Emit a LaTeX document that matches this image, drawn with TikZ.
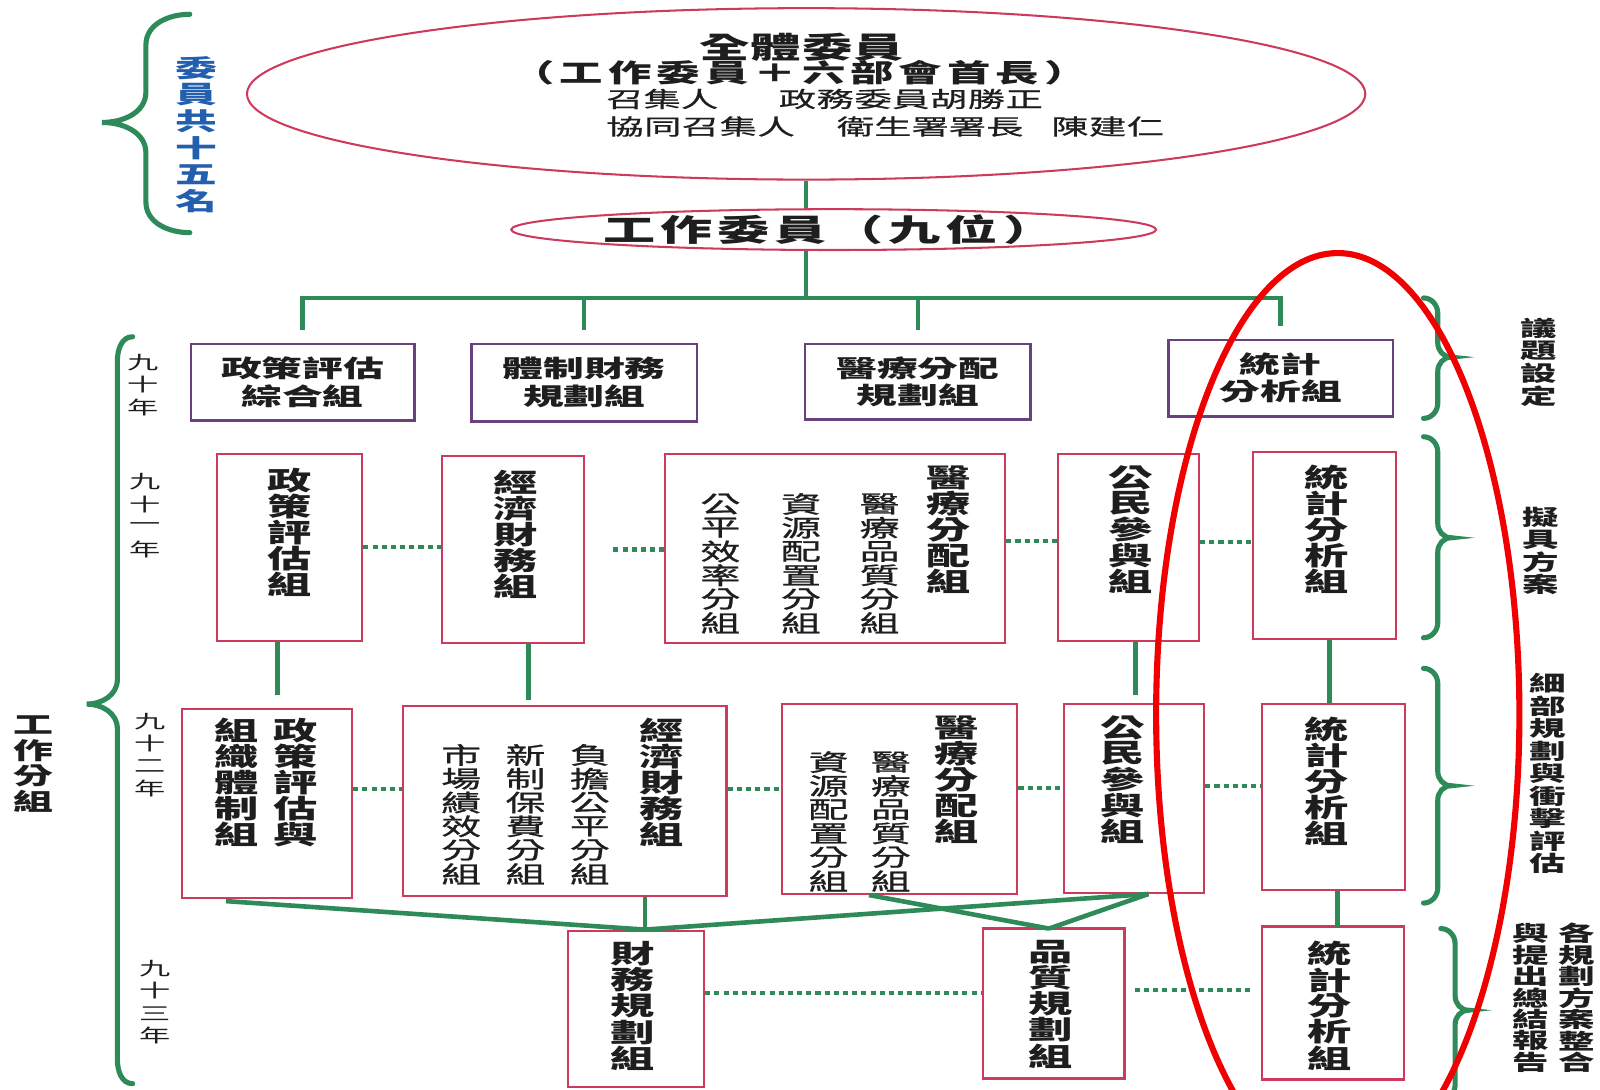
\documentclass[tikz,border=0pt]{standalone}
\usepackage{fontspec}
\setmainfont{Noto Sans CJK TC}[FakeStretch=1.7]
\usetikzlibrary{shapes.geometric,calc}
\definecolor{grn}{RGB}{46,138,88}
\definecolor{crim}{RGB}{205,58,92}
\definecolor{purp}{RGB}{105,65,125}
\definecolor{blu}{RGB}{35,95,175}
\definecolor{ann}{RGB}{240,0,0}
\definecolor{ink}{RGB}{30,30,30}
\ExplSyntaxOn
\NewDocumentCommand\myV{m m}{\vbox:n{\offinterlineskip\tl_map_inline:nn{#2}{\hbox_to_wd:nn{2em}{\hss\vbox_to_ht:nn{#1}{\vss\hbox:n{##1}\vss}\hss}}}}
\NewDocumentCommand\myH{m m}{\tl_map_inline:nn{#2}{##1\skip_horizontal:n{#1}}\skip_horizontal:n{-#1}}
\ExplSyntaxOff
\newcommand\LB[7]{\draw[brc] (#1,#4) to[out=180,in=90] (#2,{#4+#7}) -- (#2,{#5-#7}) to[out=-90,in=0] (#3,#5) to[out=0,in=90] (#2,{#5+#7}) -- (#2,{#6-#7}) to[out=-90,in=180] (#1,#6);}
\newcommand\RB[4]{\draw[brc] (#1,#2) to[out=0,in=90] ({#1+14},{#2+15}) -- ({#1+14},{#3-14}) to[out=-90,in=180] ({#1+27},#3) to[out=180,in=90] ({#1+14},{#3+14}) -- ({#1+14},{#4-15}) to[out=-90,in=0] (#1,#4);}
\tikzset{
  gl/.style={draw=grn, line width=4.5pt},
  dl/.style={draw=grn, line width=4pt, dash pattern=on 5pt off 4pt},
  brc/.style={draw=grn, line width=5pt, line cap=round},
  ell/.style={ellipse, draw=crim, line width=2pt, inner sep=0pt},
  pbx/.style={rectangle, draw=purp, line width=2.5pt, fill=white, inner sep=0pt, align=center, text=ink,
    font=\bfseries\fontsize{23.5}{27}\selectfont},
  rbx/.style={rectangle, draw=crim, line width=2.2pt, fill=white, inner sep=0pt},
  vb/.style={inner sep=0pt, text=ink, anchor=north, font=\bfseries\fontsize{25.5}{25}\selectfont},
  vn/.style={inner sep=0pt, text=ink, anchor=north, font=\fontsize{23}{23}\selectfont\addfontfeature{FakeBold=1}},
  yr/.style={inner sep=0pt, text=ink, font=\fontsize{18}{18}\selectfont},
  rl/.style={inner sep=0pt, text=ink, font=\bfseries\fontsize{21}{21}\selectfont},
  tb/.style={inner sep=0pt, text=ink, font=\bfseries\fontsize{29}{29}\selectfont},
  tn/.style={inner sep=0pt, text=ink, anchor=west, font=\fontsize{21.5}{21.5}\selectfont\addfontfeature{FakeBold=0.6}},
}
\begin{document}
\begin{tikzpicture}[x=1pt,y=-1pt]
\fill[white] (0,0) rectangle (1568,1068);
\useasboundingbox (0,0) rectangle (1568,1068);

% top ellipses
\node[ell, minimum width=1096pt, minimum height=168pt] (E1) at (790,92) {};
\node[ell, minimum width=632pt, minimum height=40pt] (E2) at (817,225) {};
\node[tb] (t1) at (786,46) {\myH{1pt}{全體委員}};
\node[tb, font=\bfseries\fontsize{25}{25}\selectfont] (t2) at (786,71) {\myH{5pt}{（工作委員＋六部會首長）}};
\node[tn] (t3a) at (594,97) {召集人};
\node[tn] (t3b) at (763,97) {\myH{0.5pt}{政務委員胡勝正}};
\node[tn] (t4a) at (594,124) {\myH{0.5pt}{協同召集人}};
\node[tn] (t4b) at (820,124) {衛生署署長};
\node[tn] (t4c) at (1030,124) {\myH{0.5pt}{陳建仁}};
\node[tb, font=\bfseries\fontsize{30}{30}\selectfont] (t5) at (815,225) {\myH{5pt}{工作委員（九位）}};

% left labels
\LB{186}{143}{100}{14}{120}{228}{30}
\node[inner sep=0pt, text=blu, font=\bfseries\fontsize{24}{24}\selectfont] (lab1) at (192,132) {\myV{26pt}{委員共十五名}};
\LB{130}{115}{85}{330}{690}{1062}{24}
\node[inner sep=0pt, text=ink, font=\bfseries\fontsize{23}{23}\selectfont] (lab2) at (33,748) {\myV{25pt}{工作分組}};
\node[yr] (y90) at (140,377) {\myV{22pt}{九十年}};
\node[yr] (y91) at (142,505) {\myV{22pt}{九十一年}};
\node[yr] (y92) at (147,740) {\myV{22pt}{九十二年}};
\node[yr] (y93) at (152,982) {\myV{22pt}{九十三年}};

% right labels
\RB{1395}{292}{350}{410}
\RB{1395}{428}{527}{625}
\RB{1395}{655}{770}{885}
\RB{1412}{910}{990}{1078}
\node[rl] (r1) at (1508,355) {\myV{22pt}{議題設定}};
\node[rl] (r2) at (1510,540) {\myV{22pt}{擬具方案}};
\node[rl] (r3) at (1517,758) {\myV{22pt}{細部規劃與衝擊評估}};
\node[rl] (r4a) at (1545,978) {\myV{21pt}{各規劃方案整合}};
\node[rl] (r4b) at (1500,978) {\myV{21pt}{與提出總結報告}};

% row 90
\node[pbx, minimum width=219pt, minimum height=75pt] (b0a) at (296.5,374.5) {政策評估\\綜合組};
\node[pbx, minimum width=221pt, minimum height=76pt] (b0b) at (572.5,375) {體制財務\\規劃組};
\node[pbx, minimum width=221pt, minimum height=74pt] (b0c) at (899.5,374) {醫療分配\\規劃組};
\node[pbx, minimum width=220pt, minimum height=75pt] (b0d) at (1255,370.5) {統計\\分析組};

% row 91
\node[rbx, minimum width=142pt, minimum height=183pt] (b1a) at (284,536.5) {};
\node[rbx, minimum width=139pt, minimum height=183pt] (b1b) at (502.5,538.5) {};
\node[rbx, minimum width=333pt, minimum height=185pt] (b1c) at (818.5,537.5) {};
\node[rbx, minimum width=138pt, minimum height=183pt] (b1d) at (1106,536.5) {};
\node[rbx, minimum width=140pt, minimum height=183pt] (b1e) at (1298,534.5) {};
\node[vb] (v1a) at (284,458) {\myV{25.5pt}{政策評估組}};
\node[vb] (v1b) at (505,460) {\myV{25.5pt}{經濟財務組}};
\node[vb] (v1c) at (930,455) {\myV{25.5pt}{醫療分配組}};
\node[vn] (v1c2) at (862,482) {\myV{23.3pt}{醫療品質分組}};
\node[vn] (v1c3) at (785,482) {\myV{23.3pt}{資源配置分組}};
\node[vn] (v1c4) at (706,482) {\myV{23.3pt}{公平效率分組}};
\node[vb] (v1d) at (1108,455) {\myV{25.5pt}{公民參與組}};
\node[vb] (v1e) at (1300,455) {\myV{25.5pt}{統計分析組}};

% row 92
\node[rbx, minimum width=167pt, minimum height=185pt] (b2a) at (261.5,787.5) {};
\node[rbx, minimum width=317pt, minimum height=186pt] (b2b) at (553.5,785) {};
\node[rbx, minimum width=231pt, minimum height=186pt] (b2c) at (881.5,783) {};
\node[rbx, minimum width=137pt, minimum height=185pt] (b2d) at (1111.5,782.5) {};
\node[rbx, minimum width=140pt, minimum height=182pt] (b2e) at (1307,781) {};
\node[vb] (v2a1) at (290,703) {\myV{25.5pt}{政策評估與}};
\node[vb] (v2a2) at (232,703) {\myV{25.5pt}{組織體制組}};
\node[vb] (v2b1) at (648,703) {\myV{25.5pt}{經濟財務組}};
\node[vn] (v2b2) at (578,728) {\myV{23.3pt}{負擔公平分組}};
\node[vn] (v2b3) at (515,728) {\myV{23.3pt}{新制保費分組}};
\node[vn] (v2b4) at (452,728) {\myV{23.3pt}{市場績效分組}};
\node[vb] (v2c1) at (937,700) {\myV{25.5pt}{醫療分配組}};
\node[vn] (v2c2) at (873,735) {\myV{23.3pt}{醫療品質分組}};
\node[vn] (v2c3) at (812,735) {\myV{23.3pt}{資源配置分組}};
\node[vb] (v2d) at (1100,700) {\myV{25.5pt}{公民參與組}};
\node[vb] (v2e) at (1300,702) {\myV{25.5pt}{統計分析組}};

% row 93
\node[rbx, minimum width=133pt, minimum height=153pt] (b3a) at (623.5,988.5) {};
\node[rbx, minimum width=139pt, minimum height=147pt] (b3b) at (1032.5,983.5) {};
\node[rbx, minimum width=139pt, minimum height=150pt] (b3c) at (1306.5,983) {};
\node[vb] (v3a) at (620,922) {\myV{25.5pt}{財務規劃組}};
\node[vb] (v3b) at (1030,920) {\myV{25.5pt}{品質規劃組}};
\node[vb] (v3c) at (1303,922) {\myV{25.5pt}{統計分析組}};

% solid connectors
\coordinate (bar) at (787,292);
\draw[gl] (E1.south) -- (E1.south |- E2.north);
\draw[gl] (E1.south |- E2.south) -- (E1.south |- bar);
\draw[gl] ([yshift=12pt]b0a.north) -- (b0a.north |- bar) -- (b0d.north |- bar) -- ([yshift=12pt]b0d.north);
\draw[gl] (b0b.north |- bar) -- ([yshift=12pt]b0b.north);
\draw[gl] (b0c.north |- bar) -- ([yshift=12pt]b0c.north);

\draw[gl] (b1a.south) ++(-12,0) -- ++(0,52);
\draw[gl] (b1b.south) ++(15.5,0) -- ++(0,55);
\draw[gl] (b1d.south) ++(7,0) -- ++(0,52);
\draw[gl] (b1e.south) ++(5,0) -- ++(0,62);

\coordinate (j1) at (632,911);
\coordinate (j3) at (1028,910);
\draw[gl] (b2a.south) ++(-40,2) -- (j1);
\draw[gl] (b2b.south -| j1) -- (j1);
\draw[gl] (b2d.south) ++(14,0) coordinate (j2) -- (j1);
\draw[gl] (j2) -- (j3);
\draw[gl] (b2c.south) ++(-30,0) -- (j3);
\draw[gl] (b2e.south) ++(4,0) -- ++(0,36);

% dotted connectors
\draw[dl] (b1a.east) -- (b1a.east -| b1b.west);
\draw[dl, shorten <=28pt] (b1b.east) -- (b1b.east -| b1c.west);
\path (b1c.east) ++(0,-7) coordinate (d3);
\draw[dl] (d3) -- (d3 -| b1d.west);
\path (b1d.east) ++(0,-5) coordinate (d4);
\draw[dl] (d4) -- (d4 -| b1e.west);
\path (b2a.east) ++(0,-14.5) coordinate (d5);
\draw[dl] (d5) -- (d5 -| b2b.west);
\path (b2b.east) ++(0,-12) coordinate (d6);
\draw[dl] (d6) -- (d6 -| b2c.west);
\path (b2c.east) ++(0,-11) coordinate (d7);
\draw[dl] (d7) -- (d7 -| b2d.west);
\path (b2d.east) ++(0,-12.5) coordinate (d8);
\draw[dl] (d8) -- (d8 -| b2e.west);
\path (b3a.east) ++(0,-15.5) coordinate (d9);
\draw[dl] (d9) -- (d9 -| b3b.west);
\path (b3b.east) ++(0,-13.5) coordinate (d10);
\draw[dl, shorten <=9pt, shorten >=9pt] (d10) -- (d10 -| b3c.west);

% red annotation ellipse
\begin{scope}
\clip (0,0) rectangle (1568,1068);
\draw[ann, line width=6pt] (1311,700) ellipse [x radius=178pt, y radius=452pt];
\end{scope}
\end{tikzpicture}
\end{document}
